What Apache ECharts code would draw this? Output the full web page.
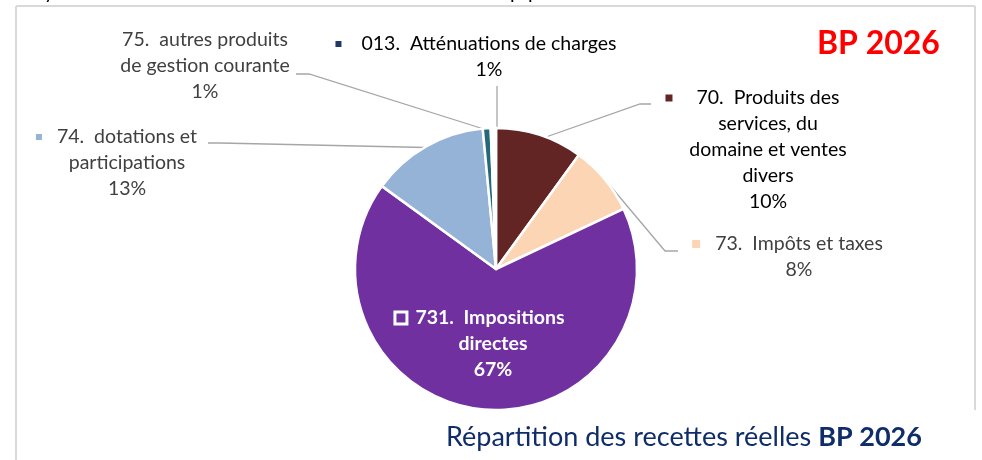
<!DOCTYPE html>
<html>
<head>
<meta charset="utf-8">
<script src="https://cdn.jsdelivr.net/npm/echarts@6/dist/echarts.min.js"></script>
<style>
html,body{margin:0;padding:0;background:#fff;}
#c{width:982px;height:460px;}
</style>
</head>
<body>
<div id="c"></div>
<script>
// ---- data ----
const codes = ['70.', '73.', '731.', '74.', '75.', '013.'];
const labelLines = [
  ['70.  Produits des', 'services, du', 'domaine et ventes', 'divers'],
  ['73.  Impôts et taxes'],
  ['731.  Impositions', 'directes'],
  ['74.  dotations et', 'participations'],
  ['75.  autres produits', 'de gestion courante'],
  ['013.  Atténuations de charges']
];
const values = [10.0, 8.0, 67.0, 13.5, 0.9, 0.6];
const percentLabels = ['10%', '8%', '67%', '13%', '1%', '1%'];
const sliceColors = ['#632523', '#fcd5b5', '#7030a0', '#95b3d7', '#23697a', '#ffffff'];
const markerColors = ['#632523', '#fcd5b5', '#7030a0', '#95b3d7', null, '#1f3864'];
const chartTitle = 'Répartition des recettes réelles ';
const chartTitleBold = 'BP 2026';
const badge = 'BP 2026';

// ---- layout (positions) ----
const FONT = 'Lato, "Noto Sans", sans-serif';
const FS = 19.5;
const labelPos = [
  {x: 768, y: 85}, {x: 799, y: 231}, {x: 493, y: 305},
  {x: 127, y: 124}, {x: 205, y: 27}, {x: 489, y: 31}
];
const markerGeom = [
  {w: 7, g: 24}, {w: 8, g: 15}, {w: 15, g: 10}, {w: 6, g: 15}, null, {w: 6, g: 20}
];
const linePts = [
  [[546,137],[640,104],[651,104]],
  [[607,182],[665,251],[678,251]],
  null,
  [[449,148],[220,143],[208,143]],
  [[490,131],[309,74],[296,74]],
  [[497,128],[497,110],[497,86]]
];
const textColors = ['#000000', '#404040', '#ffffff', '#404040', '#404040', '#000000'];

const data = codes.map((c, i) => {
  const mg = markerGeom[i];
  const inner = i === 2;
  const rich = {
    t: {fontSize: FS, fontFamily: FONT, color: textColors[i], lineHeight: 26, fontWeight: inner ? 'bold' : 'normal'},
    g: {width: mg ? mg.g : 0, fontSize: FS, lineHeight: 26},
    s: {width: mg ? mg.w + mg.g : 0, fontSize: FS, lineHeight: 26}
  };
  if (mg) {
    rich.m = inner
      ? {width: mg.w - 6, height: mg.w - 6, backgroundColor: sliceColors[i], borderColor: '#ffffff', borderWidth: 3, fontSize: 1}
      : {width: mg.w, height: mg.w, backgroundColor: markerColors[i], fontSize: 1};
  }
  const lines = labelLines[i].concat([percentLabels[i]]);
  const fmt = lines.map((l, k) => {
    if (k === 0 && mg) return '{m| }{g| }{t|' + l + '}{s| }';
    return '{t|' + l + '}';
  }).join('\n');
  return {
    name: c,
    value: values[i],
    itemStyle: {color: sliceColors[i]},
    label: {formatter: fmt, rich: rich},
    labelLine: {show: !inner}
  };
});

const chart = echarts.init(document.getElementById('c'), null, {renderer: 'canvas'});
chart.setOption({
  animation: false,
  backgroundColor: '#ffffff',
  graphic: [
    {type: 'text', x: 44, y: 3, style: {text: 'y', fill: '#000', font: '20px ' + FONT, verticalAlign: 'bottom'}},
    {type: 'text', x: 510, y: 3, style: {text: 'p', fill: '#000', font: '20px ' + FONT, verticalAlign: 'bottom'}},
    {type: 'text', x: 528, y: 3, style: {text: 'p', fill: '#000', font: '20px ' + FONT, verticalAlign: 'bottom'}},
    {type: 'rect', shape: {x: 0, y: 0, width: 982, height: 5}, style: {fill: 'rgba(0,0,0,0)'}},
    {type: 'line', shape: {x1: 16, y1: 6, x2: 975, y2: 6}, style: {stroke: '#d9d9d9', lineWidth: 2}},
    {type: 'line', shape: {x1: 16, y1: 6, x2: 16, y2: 460}, style: {stroke: '#d9d9d9', lineWidth: 2}},
    {type: 'line', shape: {x1: 975, y1: 6, x2: 975, y2: 410}, style: {stroke: '#d9d9d9', lineWidth: 2}},
    {type: 'text', left: 817, top: 28, style: {text: badge, fill: '#ff0000', font: 'bold 32px ' + FONT}},
    {type: 'text', left: 446, top: 424, style: {
      text: '{r|' + chartTitle + '}{b|' + chartTitleBold + '}',
      rich: {
        r: {fill: '#0f2d69', fontSize: 27, fontFamily: FONT},
        b: {fill: '#0f2d69', fontSize: 27, fontFamily: FONT, fontWeight: 'bold'}
      }
    }}
  ],
  series: [{
    type: 'pie',
    center: [496, 269],
    radius: 141,
    startAngle: 90,
    clockwise: true,
    avoidLabelOverlap: false,
    silent: true,
    itemStyle: {borderColor: '#ffffff', borderWidth: 2.5},
    label: {show: true, position: 'outside', align: 'center'},
    labelLine: {show: true, lineStyle: {color: '#a6a6a6', width: 1.3}},
    labelLayout: function (p) {
      const i = p.dataIndex;
      const r = {x: labelPos[i].x, y: labelPos[i].y, align: 'center', verticalAlign: 'top'};
      if (linePts[i]) r.labelLinePoints = linePts[i];
      return r;
    },
    data: data
  }]
});
</script>
</body>
</html>
